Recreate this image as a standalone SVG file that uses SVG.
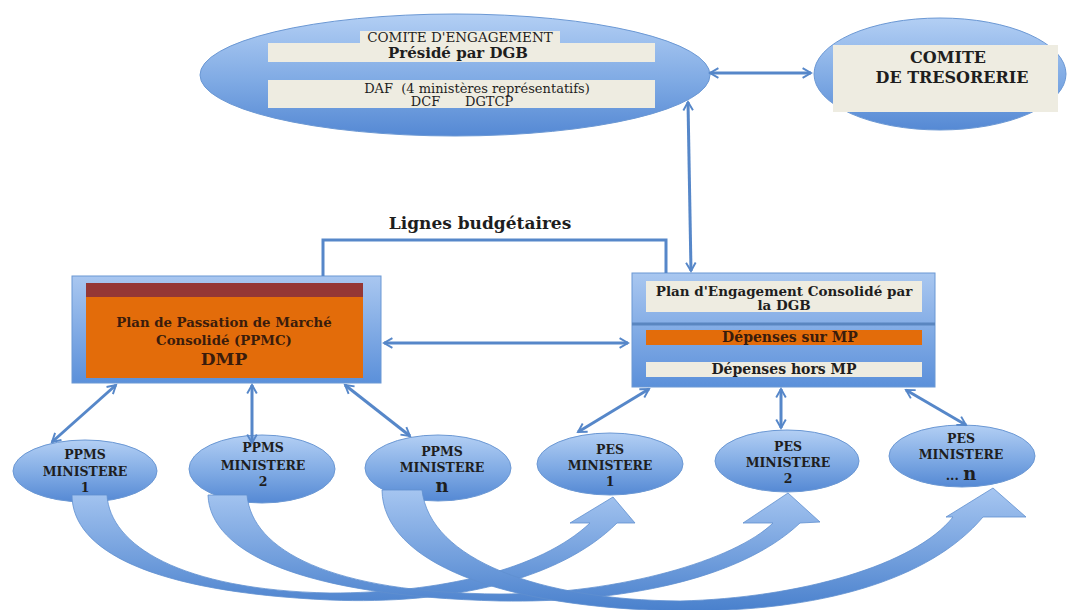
<svg xmlns="http://www.w3.org/2000/svg" width="1073" height="610" viewBox="0 0 1073 610">
<style>
.ell{fill:url(#gEll);stroke:#6b98d4;stroke-width:1}
.box{fill:url(#gBox);stroke:#6b98d4;stroke-width:1}
.beige{fill:#eeece1}
.con{fill:none;stroke:#5687c9;stroke-width:3}
.dbl{marker-start:url(#ah);marker-end:url(#ah)}
.big{fill:url(#gArr);stroke:#5f8fcf;stroke-width:0.8}
text{font-family:"DejaVu Serif","Liberation Serif",serif;fill:#1e1e1e;text-anchor:middle}
.b{font-weight:bold}
.lbl{font-size:12.5px;font-weight:bold}
.or{fill:#3a1c0c}
</style>
<defs>
<linearGradient id="gEll" x1="0" y1="0" x2="0" y2="1">
<stop offset="0" stop-color="#b3cff4"/>
<stop offset="0.55" stop-color="#7faae4"/>
<stop offset="1" stop-color="#5589d4"/>
</linearGradient>
<linearGradient id="gBox" x1="0" y1="0" x2="0" y2="1">
<stop offset="0" stop-color="#a9c7f0"/>
<stop offset="1" stop-color="#5b90da"/>
</linearGradient>
<linearGradient id="gArr" gradientUnits="userSpaceOnUse" x1="0" y1="485" x2="0" y2="610">
<stop offset="0" stop-color="#a9c8f2"/>
<stop offset="1" stop-color="#4a81cd"/>
</linearGradient>
<marker id="ah" viewBox="0 0 10 10" refX="8" refY="5" markerWidth="4" markerHeight="4" orient="auto-start-reverse" markerUnits="strokeWidth">
<path d="M1,1 L8,5 L1,9" fill="none" stroke="#5687c9" stroke-width="1.6"/>
</marker>
</defs>
<rect width="1073" height="610" fill="#ffffff"/>

<g id="comite-engagement">
<ellipse class="ell" cx="455" cy="75" rx="255" ry="61"/>
<rect class="beige" x="360" y="31" width="200" height="13"/>
<rect class="beige" x="268" y="43" width="387" height="19"/>
<rect class="beige" x="268" y="80" width="387" height="28"/>
<text x="460" y="42" font-size="13.5">COMITE D'ENGAGEMENT</text>
<text x="458" y="58" font-size="15" class="b">Présidé par DGB</text>
<text x="477" y="93" font-size="13">DAF&#160; (4 ministères représentatifs)</text>
<text x="462" y="106" font-size="13">DCF&#160;&#160;&#160;&#160;&#160; DGTCP</text>
</g>

<g id="comite-tresorerie">
<ellipse class="ell" cx="940" cy="74" rx="126" ry="56"/>
<rect class="beige" x="833" y="45" width="225" height="67"/>
<text x="948" y="63" font-size="16" class="b">COMITE</text>
<text x="952" y="83" font-size="16" class="b">DE TRESORERIE</text>
</g>

<g id="ppmc">
<rect class="box" x="72" y="276" width="309" height="107"/>
<rect x="86" y="283" width="277" height="14" fill="#953735"/>
<rect x="86" y="297" width="277" height="81" fill="#e36c0a"/>
<text x="224" y="327" font-size="13.3" class="b or">Plan de Passation de Marché</text>
<text x="224" y="345" font-size="13.3" class="b or">Consolidé (PPMC)</text>
<text x="224" y="365" font-size="17" class="b or">DMP</text>
</g>

<g id="pec">
<rect class="box" x="632" y="273" width="303" height="114"/>
<rect class="beige" x="646" y="281" width="276" height="31"/>
<line x1="632" y1="324" x2="935" y2="324" stroke="#5a86c0" stroke-width="3"/>
<rect x="646" y="330" width="276" height="15" fill="#e36c0a"/>
<rect class="beige" x="646" y="362" width="276" height="15"/>
<text x="784" y="296" font-size="13.5" class="b">Plan d'Engagement Consolidé par</text>
<text x="784" y="310" font-size="13.5" class="b">la DGB</text>
<text x="790" y="342" font-size="14" class="b or">Dépenses sur MP</text>
<text x="784" y="374" font-size="14" class="b">Dépenses hors MP</text>
</g>

<g id="ppms1">
<ellipse class="ell" cx="85" cy="471" rx="72" ry="31"/>
<text x="85" y="459" class="lbl">PPMS</text>
<text x="85" y="476" class="lbl">MINISTERE</text>
<text x="85" y="492" class="lbl">1</text>
</g>
<g id="ppms2">
<ellipse class="ell" cx="262" cy="469" rx="73" ry="34"/>
<text x="263" y="452" class="lbl">PPMS</text>
<text x="263" y="470" class="lbl">MINISTERE</text>
<text x="263" y="486" class="lbl">2</text>
</g>
<g id="ppmsn">
<ellipse class="ell" cx="438" cy="468" rx="73" ry="33"/>
<text x="442" y="456" class="lbl">PPMS</text>
<text x="442" y="472" class="lbl">MINISTERE</text>
<text x="442" y="492" font-size="18" class="b">n</text>
</g>
<g id="pes1">
<ellipse class="ell" cx="610" cy="464" rx="73" ry="31"/>
<text x="610" y="454" class="lbl">PES</text>
<text x="610" y="470" class="lbl">MINISTERE</text>
<text x="610" y="486" class="lbl">1</text>
</g>
<g id="pes2">
<ellipse class="ell" cx="787" cy="461" rx="72" ry="31"/>
<text x="788" y="451" class="lbl">PES</text>
<text x="788" y="467" class="lbl">MINISTERE</text>
<text x="788" y="483" class="lbl">2</text>
</g>
<g id="pesn">
<ellipse class="ell" cx="962" cy="456" rx="73" ry="31"/>
<text x="961" y="443" class="lbl">PES</text>
<text x="961" y="459" class="lbl">MINISTERE</text>
<text x="961" y="480" class="b" font-size="12.5">... <tspan font-size="18">n</tspan></text>
</g>

<g id="connectors">
<polyline class="con" points="323,276 323,240 666,240 666,273"/>
<text x="480" y="229" font-size="17" class="b">Lignes budgétaires</text>
<line class="con dbl" x1="710" y1="73" x2="811" y2="73"/>
<line class="con dbl" x1="688" y1="102" x2="691" y2="271"/>
<line class="con dbl" x1="384" y1="343" x2="628" y2="343"/>
<line class="con dbl" x1="52" y1="442" x2="116" y2="385"/>
<line class="con dbl" x1="252" y1="443" x2="252" y2="385"/>
<line class="con dbl" x1="345" y1="385" x2="410" y2="436"/>
<line class="con dbl" x1="578" y1="432" x2="649" y2="389"/>
<line class="con dbl" x1="781" y1="428" x2="781" y2="389"/>
<line class="con dbl" x1="906" y1="390" x2="966" y2="425"/>
<path class="big" d="M72,495 C72,550 150,592 330,600 C450,605 560,580 617,523 L635,523 L613,497 L570,523 L590,523 C540,570 440,593 330,593 C180,590 110,545 107,495 Z"/>
<path class="big" d="M208,495 C210,552 300,596 500,601 C620,603 740,580 800,523 L820,522 L788,493 L743,523 L773,523 C735,560 620,594 500,594 C330,593 252,550 247,495 Z"/>
<path class="big" d="M382,490 C383,562 500,608 680,611 C820,612 930,580 983,517 L1026,517 L993,488 L946,517 L953,517 C915,565 800,598 680,601 C540,600 430,560 422,490 Z"/>
</g>
</svg>
